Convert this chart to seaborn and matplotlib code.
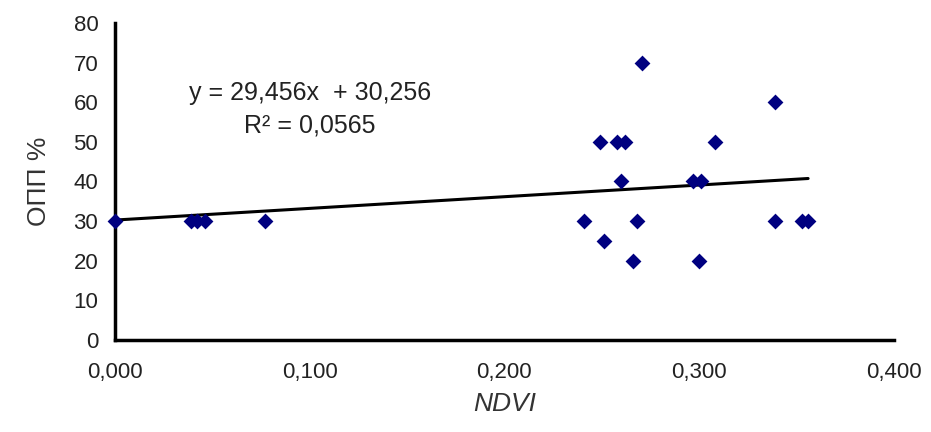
import matplotlib
matplotlib.use("Agg")
import matplotlib.pyplot as plt
import seaborn as sns
import numpy as np
import pandas as pd

ndvi = [0.000, 0.039, 0.042, 0.046, 0.077,
        0.241, 0.249, 0.251, 0.258, 0.260, 0.262, 0.266, 0.268, 0.2705,
        0.297, 0.300, 0.301, 0.308, 0.339, 0.339, 0.353, 0.356]
opp = [30, 30, 30, 30, 30,
       30, 50, 25, 50, 40, 50, 20, 30, 70,
       40, 20, 40, 50, 60, 30, 30, 30]
slope = 29.456
intercept = 30.256
eq_text = "y = 29,456x  + 30,256"
r2_text = "R² = 0,0565"
x_ticks = [0.0, 0.1, 0.2, 0.3, 0.4]
x_ticklabels = ["0,000", "0,100", "0,200", "0,300", "0,400"]
y_ticks = [0, 10, 20, 30, 40, 50, 60, 70, 80]

sns.set_style("white")
plt.rcParams['font.family'] = ['Liberation Sans', 'DejaVu Sans']

df = pd.DataFrame({"NDVI": ndvi, "OPP": opp})
fig = plt.figure(figsize=(9.31, 4.32), dpi=100)
ax = fig.add_axes([0.1235, 0.213, 0.8365, 0.734])

xl = np.array([min(ndvi), max(ndvi)])
line_df = pd.DataFrame({"x": xl, "y": slope * xl + intercept})
sns.lineplot(data=line_df, x="x", y="y", color="black", linewidth=2.2, ax=ax)
sns.scatterplot(data=df, x="NDVI", y="OPP", marker="D", s=65, color="#000080",
                edgecolor="#000080", linewidth=0, ax=ax, zorder=3, clip_on=False)

ax.set_xlim(0, 0.4)
ax.set_ylim(0, 80)
ax.set_xticks(x_ticks)
ax.set_xticklabels(x_ticklabels)
ax.set_yticks(y_ticks)
for s in ["top", "right"]:
    ax.spines[s].set_visible(False)
for s in ["left", "bottom"]:
    ax.spines[s].set_linewidth(2.5)
    ax.spines[s].set_color("black")
ax.tick_params(axis="both", direction="in", length=8, width=2.5, colors="black",
               labelsize=16, labelcolor="#222222")
ax.tick_params(axis="y", pad=12)
ax.tick_params(axis="x", pad=16)
ax.set_xlabel("NDVI", fontsize=19, fontstyle="italic", color="#333333", labelpad=6)
ax.set_ylabel("ОПП %", fontsize=19, color="#333333", labelpad=16)

ax.text(0.100, 62.3, eq_text, fontsize=18, color="#222222", ha="center", va="center")
ax.text(0.100, 54.0, r2_text, fontsize=18, color="#222222", ha="center", va="center")

fig.savefig("out.png", dpi=100)
